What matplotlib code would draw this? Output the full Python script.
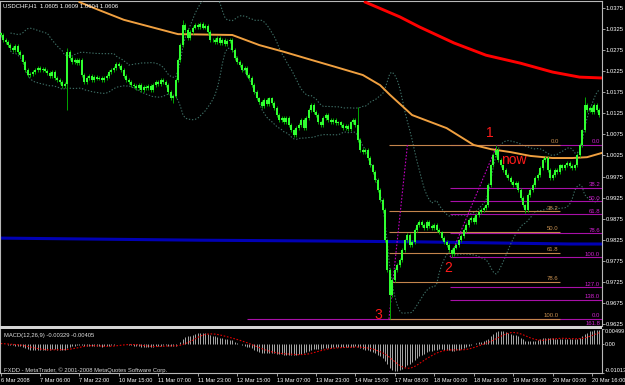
import numpy as np
import pandas as pd
import matplotlib
matplotlib.use('Agg')
import matplotlib.pyplot as plt
from matplotlib.patches import Rectangle

plt.rcParams['font.family'] = ['Liberation Sans', 'DejaVu Sans']

# USDCHF H1 closes in pips (10000 = 1.0000), one per bar
close_pips = [
    10311, 10299, 10294, 10287, 10280, 10275, 10285, 10271, 10263, 10247,
    10228, 10216, 10218, 10223, 10228, 10233, 10228, 10230, 10226, 10221,
    10214, 10223, 10209, 10204, 10199, 10190, 10195, 10271, 10256, 10247,
    10252, 10244, 10252, 10216, 10199, 10209, 10214, 10204, 10211, 10207,
    10209, 10204, 10209, 10214, 10223, 10228, 10233, 10242, 10237, 10228,
    10214, 10204, 10199, 10192, 10190, 10185, 10192, 10180, 10188, 10185,
    10190, 10180, 10192, 10199, 10195, 10204, 10199, 10192, 10176, 10161,
    10166, 10204, 10252, 10287, 10335, 10323, 10304, 10318, 10328, 10335,
    10330, 10337, 10328, 10332, 10318, 10299, 10299, 10294, 10304, 10292,
    10299, 10290, 10297, 10299, 10275, 10256, 10247, 10240, 10228, 10233,
    10216, 10209, 10192, 10176, 10161, 10152, 10142, 10157, 10147, 10161,
    10150, 10138, 10121, 10109, 10114, 10104, 10114, 10097, 10085, 10074,
    10090, 10097, 10109, 10090, 10114, 10133, 10145, 10128, 10121, 10104,
    10097, 10114, 10121, 10109, 10104, 10109, 10102, 10104, 10097, 10090,
    10095, 10088, 10104, 10109, 10097, 10062, 10038, 10033, 10038, 10019,
    10002, 9986, 9967, 9943, 9919, 9896, 9824, 9753, 9694, 9730,
    9753, 9765, 9777, 9801, 9824, 9836, 9813, 9820, 9848, 9860,
    9867, 9860, 9853, 9867, 9858, 9853, 9860, 9848, 9843, 9829,
    9820, 9813, 9801, 9791, 9806, 9813, 9824, 9834, 9848, 9860,
    9872, 9877, 9867, 9884, 9891, 9896, 9900, 9907, 9955, 10002,
    10026, 10038, 10014, 10002, 9991, 9979, 9972, 9962, 9955, 9960,
    9943, 9924, 9907, 9896, 9931, 9943, 9955, 9972, 9979, 9995,
    10014, 10019, 9991, 9972, 9979, 9991, 9986, 10002, 9995, 10002,
    10007, 10000, 9995, 10002, 10026, 10050, 10085, 10145, 10133, 10138,
    10128, 10145, 10133, 10121,
]
# long wicks (bar: pips)
wick_high = {27: 10280, 74: 10347, 145: 10140, 201: 10050, 237: 10164}
wick_low = {27: 10133, 70: 10150, 158: 9637, 183: 9784, 213: 9889}

# moving averages (bar, pips)
orange_ma_bars = [32, 40, 50, 61, 72, 94, 105, 115, 126, 136, 147, 154, 158, 167,
                  181, 192, 199, 207, 215, 224, 232, 238, 244]
orange_ma_pips = [10389, 10370, 10347, 10330, 10313, 10311, 10287, 10271, 10252, 10235,
                  10216, 10192, 10169, 10121, 10090, 10050, 10040, 10033, 10024, 10019,
                  10019, 10021, 10031]
red_ma_bars = [148, 162, 170, 184, 197, 211, 224, 235, 244]
red_ma_pips = [10389, 10354, 10330, 10292, 10263, 10244, 10223, 10211, 10209]
blue_ma_bars = [0, 81, 134, 170, 231, 244]
blue_ma_pips = [9829, 9824, 9822, 9820, 9815, 9815]

# fibonacci objects
fib1_high, fib1_low = 1.0050, 0.9637
fib1_levels = [0.0, 38.2, 50.0, 61.8, 78.6, 100.0]
fib1_span = (157.6, 227.0)
fib1_base = ([157.6, 165.1], [0.9637, 1.0050])
fib2_high, fib2_low = 1.0050, 0.9784
fib2_levels = [0.0, 38.2, 50.0, 61.8, 78.6, 100.0, 127.0, 138.0, 161.8]
fib2_span = (182.4, 244.1)
fib2_base = ([182.4, 201.5], [0.9784, 1.0050])
fib3_price, fib3_span = 0.9637, (100.0, 244.1)

notes = [('1', 198.6, 1.0078), ('now', 208.4, 1.0014), ('2', 181.6, 0.9758), ('3', 153.2, 0.9647)]

time_labels = ['6 Mar 2008', '7 Mar 06:00', '7 Mar 22:00', '10 Mar 15:00', '11 Mar 07:00',
               '11 Mar 23:00', '12 Mar 15:00', '13 Mar 07:00', '13 Mar 23:00', '14 Mar 15:00',
               '17 Mar 08:00', '18 Mar 00:00', '18 Mar 16:00', '19 Mar 08:00', '20 Mar 00:00',
               '20 Mar 16:00']
price_ticks = [1.0375, 1.0325, 1.0275, 1.0225, 1.0175, 1.0125, 1.0075, 1.0025,
               0.9975, 0.9925, 0.9875, 0.9825, 0.9775, 0.9725, 0.9675, 0.9625]
macd_ticks = [0.00499, 0.0, -0.01013]
macd_tick_labels = ['0.00499', '0.00', '-0.01013']

closes = np.array(close_pips) / 10000
n = len(closes)
x = np.arange(n)
opens = np.r_[closes[0] + 0.0004, closes[:-1]]
highs = np.maximum(opens, closes) + 0.0004
lows = np.minimum(opens, closes) - 0.0004
for i, v in wick_high.items():
    highs[i] = v / 10000
for i, v in wick_low.items():
    lows[i] = v / 10000

s = pd.Series(closes)
mid = s.rolling(20, min_periods=5).mean()
sd = s.rolling(20, min_periods=5).std(ddof=0)
bb_up, bb_dn = mid + 2 * sd, mid - 2 * sd
macd = s.ewm(span=12, adjust=False).mean() - s.ewm(span=26, adjust=False).mean()
signal = macd.rolling(9, min_periods=1).mean()

W, H = 625, 385
px_per_bar = 2.464
fig = plt.figure(figsize=(W / 100, H / 100), dpi=100, facecolor='black')


def box(x0, y0, x1, y1):
    return [x0 / W, 1 - y1 / H, (x1 - x0) / W, (y1 - y0) / H]


ax = fig.add_axes(box(0, 1, 602, 326))
ax2 = fig.add_axes(box(0, 329, 602, 373), sharex=ax)
grey = '#b8b8b8'
for a in (ax, ax2):
    a.set_facecolor('black')
    for sp in a.spines.values():
        sp.set_color(grey)
        sp.set_linewidth(0.8)
ax.spines['bottom'].set_visible(False)
ax2.spines['top'].set_visible(False)
fig.add_artist(Rectangle((0, 1 - 329 / H), 602 / W, 3.2 / H, transform=fig.transFigure,
                         color='#d4d4d4', lw=0))

ax.set_xlim(-0.25, 602 / px_per_bar - 0.25)
ax.set_ylim(1.0394 - 0.0002373 * 326, 1.0394 - 0.0002373 * 1)

# blue / orange / red averages
ax.plot(blue_ma_bars, np.array(blue_ma_pips) / 10000, color='#0000b4', lw=2.2, zorder=2)
ax.plot(orange_ma_bars, np.array(orange_ma_pips) / 10000, color='#f0a040', lw=1.4, zorder=5)
ax.plot(red_ma_bars, np.array(red_ma_pips) / 10000, color='#ff0000', lw=2.1, zorder=5)

# bollinger bands
dots = (0, (1.2, 1.6))
ax.plot(x, bb_up, color='#3e6f66', lw=0.8, ls=dots, zorder=3)
ax.plot(x, bb_dn, color='#3e6f66', lw=0.8, ls=dots, zorder=3)

# fibonacci levels
fib_orange, fib_mag = '#c4844c', '#a810a8'
for lv in fib1_levels:
    p = fib1_high - (fib1_high - fib1_low) * lv / 100
    ax.hlines(p, *fib1_span, color=fib_orange, lw=0.8, zorder=4)
    ax.text(fib1_span[1] - 0.5, p + 0.00012, f'{lv:.1f}', color='#c89050', fontsize=4.3,
            ha='right', va='bottom', zorder=6)
for lv in fib2_levels:
    p = fib2_high - (fib2_high - fib2_low) * lv / 100
    ax.hlines(p, *fib2_span, color=fib_mag, lw=0.8, zorder=3)
    ax.text(243.3, p + 0.00012, f'{lv:.1f}', color='#d020d0', fontsize=4.3,
            ha='right', va='bottom', zorder=6)
ax.hlines(fib3_price, *fib3_span, color=fib_mag, lw=0.8, zorder=3)
ax.text(243.3, fib3_price + 0.00012, '0.0', color='#d020d0', fontsize=4.3,
        ha='right', va='bottom', zorder=6)
ax.plot(*fib1_base, color='#c000c0', lw=0.8, ls=(0, (1.5, 1.5)), zorder=4)
ax.plot(*fib2_base, color='#c000c0', lw=0.8, ls=(0, (1.5, 1.5)), zorder=4)

# candles
ax.vlines(x, lows, highs, color='#00a800', lw=0.7, zorder=7)
body_lo = np.minimum(opens, closes)
body_hi = np.maximum(np.maximum(opens, closes), body_lo + 0.00008)
ax.vlines(x, body_lo, body_hi, color='#30ff30', lw=1.45, zorder=8)

for txt, bx, py in notes:
    ax.text(bx, py, txt, color='#ff1a1a', fontsize=10, ha='center', va='center', zorder=9)

ax.yaxis.tick_right()
ax.set_yticks(price_ticks)
ax.set_yticklabels([f'{p:.4f}' for p in price_ticks])
ax.tick_params(axis='y', colors=grey, labelcolor='white', labelsize=4.2, length=2,
               width=0.6, pad=0.8)
ax.tick_params(axis='x', bottom=False, labelbottom=False)

# MACD window
ax2.set_ylim(-0.01013, 0.00499)
ax2.vlines(x, 0, macd, color='#c4c4c4', lw=0.6)
ax2.plot(x, signal, color='#e00000', lw=0.8, ls=(0, (1.5, 1.5)))
ax2.yaxis.tick_right()
ax2.set_yticks(macd_ticks)
ax2.set_yticklabels(macd_tick_labels)
tl = ax2.get_yticklabels()
tl[0].set_va('top')
tl[2].set_va('bottom')
ax2.tick_params(axis='y', colors=grey, labelcolor='white', labelsize=4.0, length=1.5,
                width=0.6, pad=0.6)
ax2.set_xticks(np.arange(len(time_labels)) * 16)
ax2.set_xticklabels(time_labels)
for lbl in ax2.get_xticklabels():
    lbl.set_ha('left')
ax2.tick_params(axis='x', colors=grey, labelcolor='white', labelsize=4.1, length=2.5,
                width=0.6, pad=1.2)

fig.text(3 / W, 1 - 6 / H, 'USDCHF,H1  1.0605 1.0609 1.0604 1.0606', color='white',
         fontsize=4.3, ha='left', va='center')
fig.text(4 / W, 1 - 335 / H, 'MACD(12,26,9) -0.00329 -0.00405', color='#e0e0e0',
         fontsize=4.2, ha='left', va='center')
fig.text(4 / W, 1 - 370 / H, 'FXDD - MetaTrader, \u00a9 2001-2008 MetaQuotes Software Corp.',
         color='#d8d8d8', fontsize=4.2, ha='left', va='center')

fig.savefig('out.png', dpi=100, facecolor='black')
